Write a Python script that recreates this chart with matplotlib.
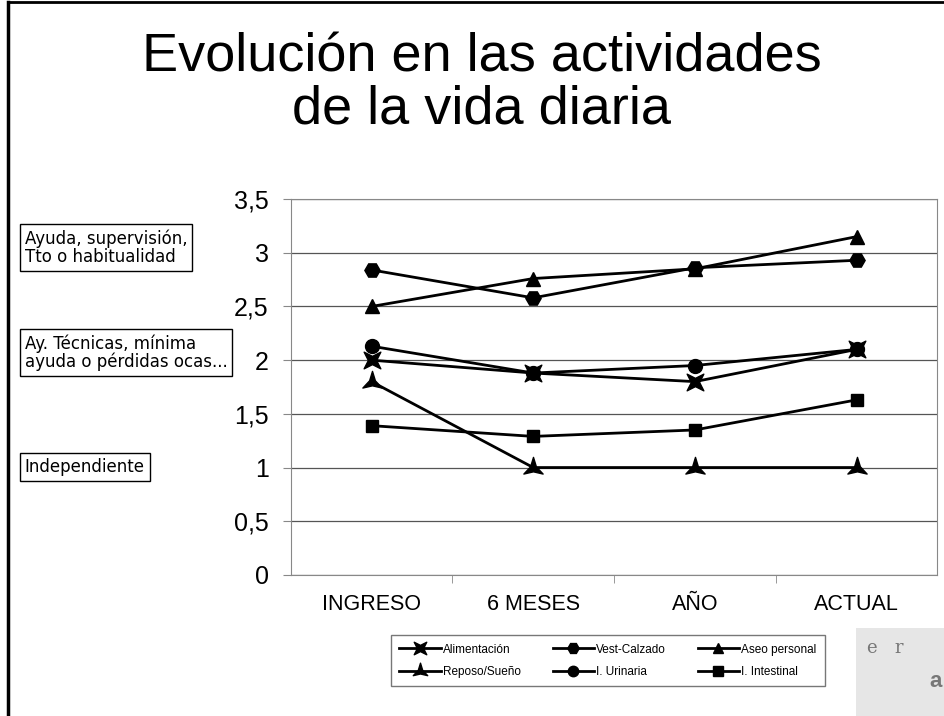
import numpy as np
import matplotlib.pyplot as plt
from matplotlib.patches import Rectangle
from matplotlib.path import Path

# Datos
categorias = ['INGRESO', '6 MESES', 'AÑO', 'ACTUAL']
alimentacion = [2.0, 1.88, 1.80, 2.10]
vest_calzado = [2.84, 2.58, 2.86, 2.93]
aseo_personal = [2.50, 2.76, 2.85, 3.15]
reposo_sueno = [1.80, 1.0, 1.0, 1.0]
i_urinaria = [2.13, 1.88, 1.95, 2.10]
i_intestinal = [1.39, 1.29, 1.35, 1.63]

y_ticks = [0, 0.5, 1, 1.5, 2, 2.5, 3, 3.5]
y_labels = ['0', '0,5', '1', '1,5', '2', '2,5', '3', '3,5']

plt.rcParams['font.family'] = ['Liberation Sans', 'DejaVu Sans']


def estrella(n, ang0, r_in):
    # marcador de estrella con puntas finas
    pts = []
    for i in range(2 * n):
        a = np.deg2rad(ang0 + i * 180.0 / n)
        r = 1.0 if i % 2 == 0 else r_in
        pts.append((r * np.cos(a), r * np.sin(a)))
    pts.append(pts[0])
    codes = [Path.MOVETO] + [Path.LINETO] * (len(pts) - 2) + [Path.CLOSEPOLY]
    return Path(pts, codes)


mk_x = estrella(4, 45, 0.35)
mk_tres = estrella(3, 90, 0.3)

fig = plt.figure(figsize=(9.44, 7.16), dpi=100)
ax = fig.add_axes([0.308, 0.197, 0.685, 0.525])

x = np.arange(len(categorias))
series = [
    ('Alimentación', alimentacion, mk_x, 12),
    ('Reposo/Sueño', reposo_sueno, mk_tres, 16),
    ('Vest-Calzado', vest_calzado, 'H', 11),
    ('I. Urinaria', i_urinaria, 'o', 10),
    ('Aseo personal', aseo_personal, '^', 10),
    ('I. Intestinal', i_intestinal, 's', 9),
]
for nombre, vals, mk, ms in series:
    ax.plot(x, vals, color='black', lw=2, marker=mk, markersize=ms,
            markerfacecolor='black', markeredgecolor='black', label=nombre)

ax.set_xlim(-0.5, 3.5)
ax.set_ylim(0, 3.5)
ax.set_yticks(y_ticks)
ax.set_yticklabels(y_labels, fontsize=18)
ax.yaxis.grid(True, color='#555555', lw=0.9)
ax.set_axisbelow(True)
ax.set_xticks(x)
ax.set_xticklabels(categorias, fontsize=15.5)
ax.tick_params(axis='x', length=0, pad=14)
ax.set_xticks([0.5, 1.5, 2.5], minor=True)
ax.tick_params(axis='x', which='minor', length=6, color='#888888', direction='out')
ax.tick_params(axis='y', length=6, color='#888888', pad=10)
for s in ax.spines.values():
    s.set_color('#888888')

leg = fig.legend(loc='lower left', bbox_to_anchor=(0.408, 0.033, 0.472, 0.087),
                 mode='expand', ncol=3, fontsize=8.5, frameon=True, fancybox=False,
                 edgecolor='#555555', handlelength=3.5, handletextpad=0.2,
                 markerscale=0.75, borderpad=0.7, labelspacing=0.9, columnspacing=1.0)
leg.get_frame().set_linewidth(1)

fig.text(0.51, 0.884, 'Evolución en las actividades\nde la vida diaria',
         ha='center', va='center', fontsize=39, linespacing=1.05)

cajas = [
    ('Ayuda, supervisión,\nTto o habitualidad', 0.654),
    ('Ay. Técnicas, mínima\nayuda o pérdidas ocas...', 0.507),
    ('Independiente', 0.348),
]
for txt, yy in cajas:
    fig.text(0.026, yy, txt, ha='left', va='center', fontsize=12, linespacing=1.0,
             family='DejaVu Sans',
             bbox=dict(boxstyle='square,pad=0.3', fc='white', ec='black', lw=1))

# marco de la figura (izquierda y arriba)
fig.add_artist(plt.Line2D([0.009, 0.009], [0, 0.997], color='black', lw=2.5,
                          transform=fig.transFigure))
fig.add_artist(plt.Line2D([0.009, 1.0], [0.997, 0.997], color='black', lw=2,
                          transform=fig.transFigure))

# logo aproximado
fig.add_artist(Rectangle((0.907, 0.0), 0.093, 0.123, transform=fig.transFigure,
                         fc='#e6e6e6', ec='none'))
fig.text(0.918, 0.088, 'e   r', fontsize=13, color='#777777', family='DejaVu Serif')
fig.text(0.985, 0.04, 'a', fontsize=16, color='#777777', weight='bold')

fig.savefig('out.png', dpi=100)
